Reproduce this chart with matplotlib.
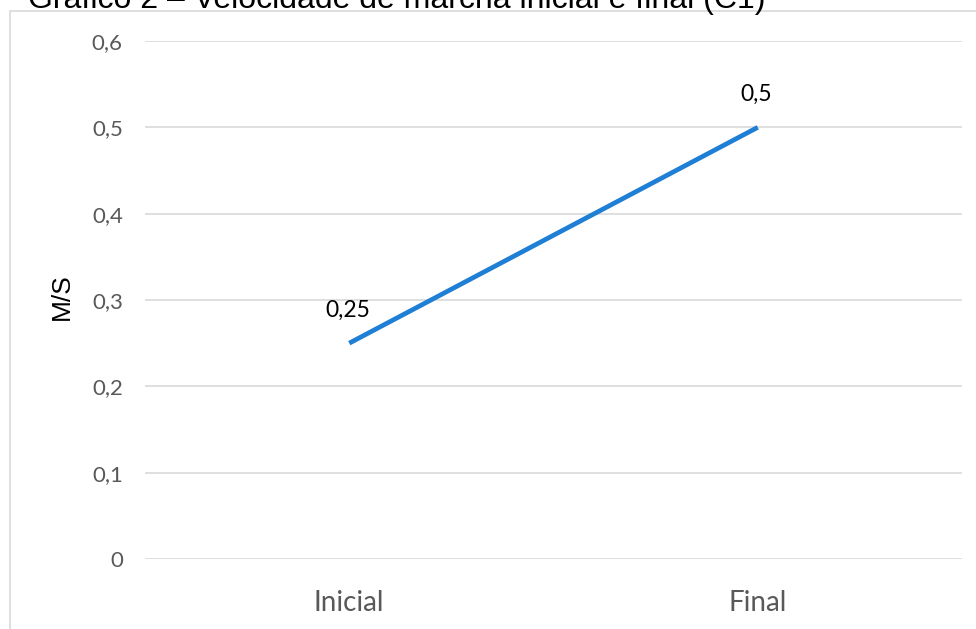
import matplotlib.pyplot as plt
from matplotlib.patches import Rectangle

# data
categories = ["Inicial", "Final"]
speeds = [0.25, 0.5]
speed_labels = ["0,25", "0,5"]
y_ticks = [0, 0.1, 0.2, 0.3, 0.4, 0.5, 0.6]
y_tick_labels = ["0", "0,1", "0,2", "0,3", "0,4", "0,5", "0,6"]

fig = plt.figure(figsize=(9.76, 6.29), dpi=100)
ax = fig.add_axes([145 / 976, 70 / 629, 817 / 976, 518 / 629])

# chart frame (only top/left visible, the rest is cut off)
fig.patches.append(Rectangle((10 / 976, -0.1), 1.2, 1.1 - 11 / 629,
                             transform=fig.transFigure, fill=False,
                             edgecolor="#d9d9d9", linewidth=1.2))

x = list(range(len(categories)))
ax.plot(x, speeds, color="#1f7fd5", linewidth=3.4, solid_capstyle="butt")

for xi, v, lab in zip(x, speeds, speed_labels):
    ax.annotate(lab, (xi, v), xytext=(-1, 19), textcoords="offset points",
                ha="center", va="baseline", fontsize=16.5, family="Lato",
                color="black")

ax.set_xlim(-0.5, 1.5)
ax.set_ylim(0, 0.6)
ax.set_xticks(x)
ax.set_xticklabels(categories, fontsize=20, family="Lato", color="#595959")
ax.set_yticks(y_ticks)
ax.set_yticklabels(y_tick_labels, fontsize=16, family="Lato", color="#595959")
ax.tick_params(axis="both", length=0)
ax.tick_params(axis="y", pad=16)
ax.tick_params(axis="x", pad=22)

ax.grid(axis="y", color="#d9d9d9", linewidth=1.2)
ax.set_axisbelow(True)
for s in ax.spines.values():
    s.set_visible(False)

ax.set_ylabel("M/S", fontsize=19, family="Liberation Sans", color="black")
ax.yaxis.set_label_coords(-0.087, 0.506)

fig.text(28 / 976, 1 - 8 / 629, "Gráfico 2 – Velocidade de marcha inicial e final (C1)",
         ha="left", va="baseline", fontsize=23, family="Liberation Sans",
         color="black")

fig.savefig("out.png", dpi=100)
